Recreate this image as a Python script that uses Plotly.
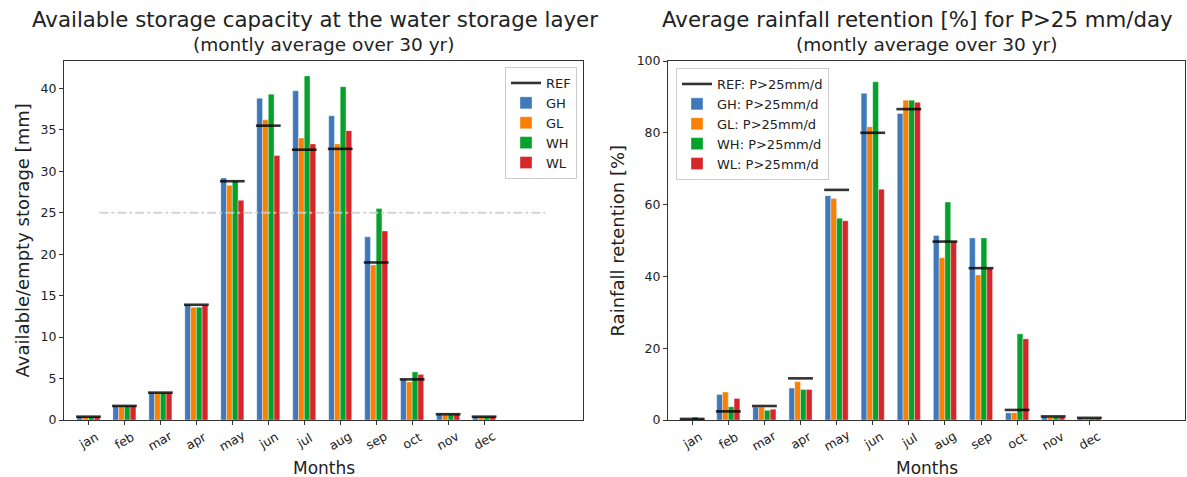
import plotly.graph_objects as go

W, H = 1187, 477

months = ["jan", "feb", "mar", "apr", "may", "jun", "jul", "aug", "sep", "oct", "nov", "dec"]
series_names = ["GH", "GL", "WH", "WL"]
colors = ["#3f79b9", "#fa8005", "#04a22a", "#d7262a"]

# Left: available storage [mm]
store_ref = [0.4, 1.7, 3.3, 13.9, 28.8, 35.5, 32.6, 32.7, 19.0, 4.9, 0.7, 0.4]
store_GH = [0.4, 1.7, 3.3, 13.9, 29.2, 38.8, 39.7, 36.7, 22.1, 4.9, 0.7, 0.4]
store_GL = [0.4, 1.7, 3.3, 13.6, 28.3, 36.2, 34.0, 33.3, 18.7, 4.6, 0.7, 0.4]
store_WH = [0.4, 1.7, 3.3, 13.6, 28.8, 39.3, 41.5, 40.2, 25.5, 5.8, 0.7, 0.4]
store_WL = [0.4, 1.7, 3.3, 13.8, 26.5, 31.9, 33.3, 34.9, 22.8, 5.5, 0.7, 0.4]
store_threshold = 25
threshold_span = (0.3, 12.7)

# Right: rainfall retention [%] for P>25 mm/day
ret_ref = [0.3, 2.4, 3.9, 11.6, 64.1, 80.0, 86.6, 49.7, 42.3, 2.8, 1.0, 0.6]
ret_GH = [0.3, 7.1, 3.6, 8.9, 62.5, 91.0, 85.4, 51.4, 50.7, 2.0, 0.9, 0.5]
ret_GL = [0.2, 7.8, 3.6, 10.7, 61.7, 81.7, 89.1, 45.2, 40.4, 2.0, 0.9, 0.5]
ret_WH = [0.8, 3.7, 2.7, 8.5, 56.2, 94.2, 89.1, 60.7, 50.7, 24.0, 0.9, 0.5]
ret_WL = [0.3, 6.0, 3.0, 8.5, 55.5, 64.3, 88.5, 49.7, 42.2, 22.6, 0.9, 0.5]

bar_w = 0.16
offsets = [-1.5 * bar_w, -0.5 * bar_w, 0.5 * bar_w, 1.5 * bar_w]
ref_half = 2.15 * bar_w

FONT = "DejaVu Sans"
TXT = "#222"
fig = go.Figure()


def add_panel(fig, xa, ya, legend, ref, series, ref_name, suffix):
    idx = list(range(len(months)))
    rx, ry = [], []
    for i, v in zip(idx, ref):
        rx += [i - ref_half, i + ref_half, None]
        ry += [v, v, None]
    for k, (name, vals) in enumerate(zip(series_names, series)):
        fig.add_trace(go.Bar(
            x=[i + offsets[k] for i in idx], y=vals, width=bar_w,
            name=name + suffix,
            marker=dict(color=colors[k], line=dict(color="rgba(255,255,255,0.6)", width=0.6)),
            xaxis=xa, yaxis=ya, legend=legend, legendrank=k + 2,
        ))
    fig.add_trace(go.Scatter(
        x=rx, y=ry, mode="lines", name=ref_name,
        line=dict(color="rgba(0,0,0,0.8)", width=2.6),
        xaxis=xa, yaxis=ya, legend=legend, legendrank=1,
    ))


add_panel(fig, "x", "y", "legend", store_ref,
          [store_GH, store_GL, store_WH, store_WL], "REF", "")

fig.add_trace(go.Scatter(
    x=list(threshold_span), y=[store_threshold, store_threshold], mode="lines",
    line=dict(color="rgba(205,205,205,0.85)", width=2, dash="dashdot"),
    showlegend=False, xaxis="x", yaxis="y",
))

add_panel(fig, "x2", "y2", "legend2", ret_ref,
          [ret_GH, ret_GL, ret_WH, ret_WL], "REF: P>25mm/d", ": P>25mm/d")

y_dom = [57 / H, (H - 61) / H]
xd1 = [64 / W, 583 / W]
xd2 = [668 / W, 1185 / W]

axis_common = dict(showline=True, mirror=True, linecolor="#333", linewidth=1,
                   ticks="outside", ticklen=4, tickcolor="#333", showgrid=False,
                   zeroline=False, automargin=False,
                   tickfont=dict(family=FONT, size=12.5, color=TXT))

leg_common = dict(bgcolor="rgba(255,255,255,0.8)", bordercolor="#ccc", borderwidth=1,
                  font=dict(family=FONT, size=13, color=TXT), tracegroupgap=0,
                  itemwidth=30)

fig.update_layout(
    width=W, height=H, margin=dict(l=0, r=0, t=0, b=0, pad=0, autoexpand=False),
    paper_bgcolor="white", plot_bgcolor="white",
    barmode="overlay",
    font=dict(family=FONT, color=TXT),
    xaxis=dict(domain=xd1, range=[-0.68, 13.75], tickvals=list(range(12)),
               showticklabels=False, anchor="y", **axis_common),
    yaxis=dict(domain=y_dom, range=[0, 43.3], tickvals=[0, 5, 10, 15, 20, 25, 30, 35, 40],
               anchor="x", **axis_common),
    xaxis2=dict(domain=xd2, range=[-0.67, 13.65], tickvals=list(range(12)),
                showticklabels=False, anchor="y2", **axis_common),
    yaxis2=dict(domain=y_dom, range=[0, 100], tickvals=[0, 20, 40, 60, 80, 100],
                anchor="x2", **axis_common),
    legend=dict(x=577 / W, y=(H - 67) / H, xanchor="right", yanchor="top", **leg_common),
    legend2=dict(x=676 / W, y=(H - 68) / H, xanchor="left", yanchor="top", **leg_common),
)

ann = []
c1 = (xd1[0] + xd1[1]) / 2
c2 = (xd2[0] + xd2[1]) / 2
tshift = 9 / W
ann.append(dict(text="Available storage capacity at the water storage layer", x=c1 - tshift,
                y=1 - 19 / H, font=dict(size=21.3)))
ann.append(dict(text="(montly average over 30 yr)", x=c1, y=1 - 45 / H, font=dict(size=18.5)))
ann.append(dict(text="Average rainfall retention [%] for P>25 mm/day", x=c2 - tshift,
                y=1 - 19 / H, font=dict(size=21.3)))
ann.append(dict(text="(montly average over 30 yr)", x=c2, y=1 - 45 / H, font=dict(size=18.5)))
ann.append(dict(text="Months", x=c1, y=1 - 468 / H, font=dict(size=17)))
ann.append(dict(text="Months", x=c2, y=1 - 468 / H, font=dict(size=17)))
ann.append(dict(text="Available/empty storage [mm]", x=22 / W, y=(y_dom[0] + y_dom[1]) / 2,
                textangle=-90, font=dict(size=18)))
ann.append(dict(text="Rainfall retention [%]", x=617 / W, y=(y_dom[0] + y_dom[1]) / 2,
                textangle=-90, font=dict(size=18)))
for a in ann:
    a.update(xref="paper", yref="paper")

# rotated month tick labels centred under each tick
for xr in ["x", "x2"]:
    for i, m in enumerate(months):
        ann.append(dict(text=m, x=i, xref=xr, y=1 - 440 / H, yref="paper",
                        textangle=-30, font=dict(size=12.5)))

for a in ann:
    a.update(showarrow=False, xanchor="center", yanchor="middle")
    a["font"].update(family=FONT, color=TXT)
fig.update_layout(annotations=ann)

fig.write_html("out.html")
